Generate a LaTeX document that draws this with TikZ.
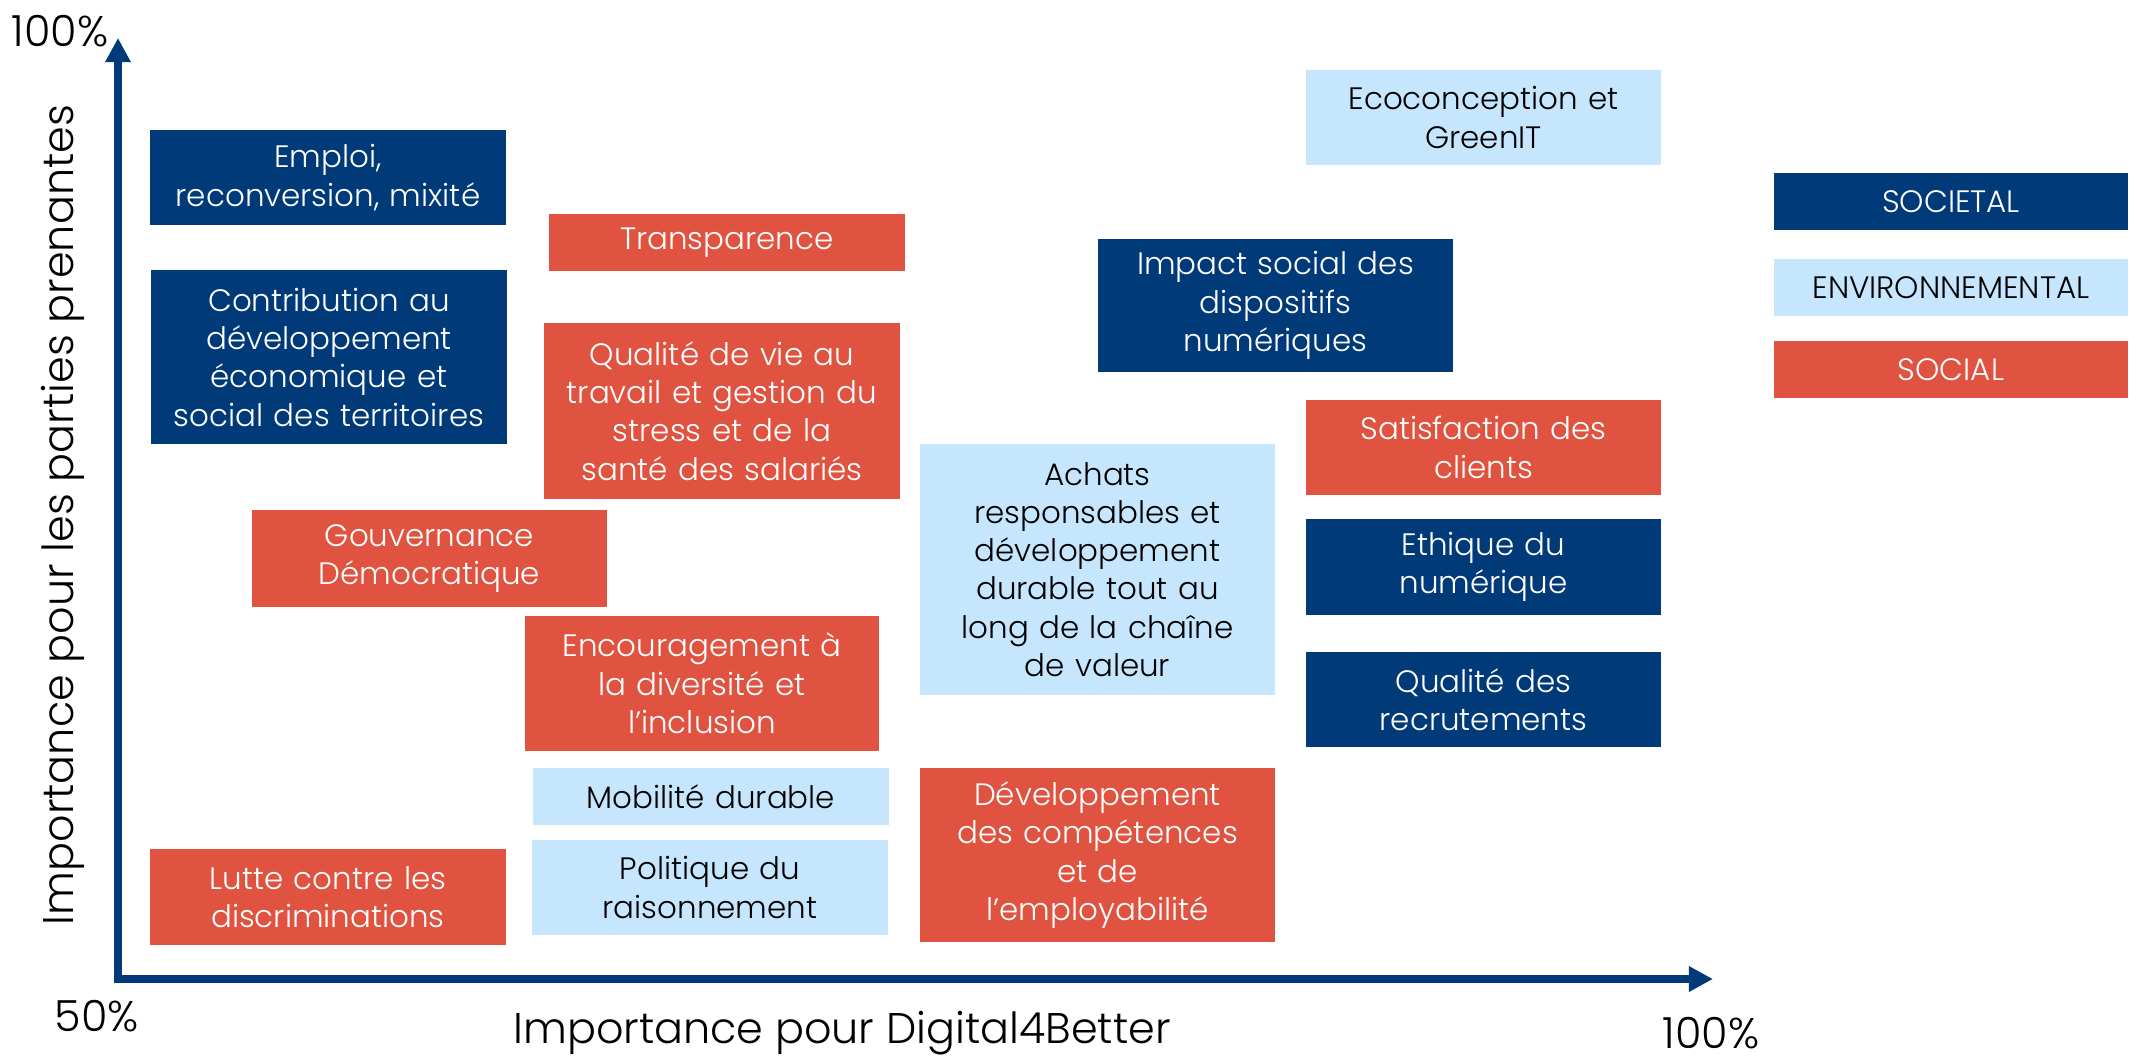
\documentclass[tikz,border=0pt]{standalone}
\usepackage{fontspec}
\setmainfont{Poppins}[UprightFont={* Light}]
\usetikzlibrary{arrows.meta}
\definecolor{navy}{RGB}{0,58,120}
\definecolor{redc}{RGB}{224,83,64}
\definecolor{lightb}{RGB}{197,230,253}
\newcommand\boxfont{\fontsize{8.8}{10.9}\selectfont}
\newcommand\labfont{\fontsize{12.2}{14}\selectfont}
\newcommand\kbox[7]{%
  \pgfmathsetmacro\kw{(#5-#3)*0.01}%
  \pgfmathsetmacro\kh{(#6-#4)*0.01}%
  \node[#2, minimum width=\kw cm, minimum height=\kh cm, text width=\kw cm] (#1) at ({(#3+#5)/2},{(#4+#6)/2}) {#7};}
\begin{document}
\begin{tikzpicture}[x=0.01cm,y=-0.01cm,
  box/.style={inner sep=0pt, outer sep=0pt, align=center, font=\boxfont},
  navybox/.style={box, fill=navy, text=white},
  redbox/.style={box, fill=redc, text=white},
  bluebox/.style={box, fill=lightb, text=black},
  axislab/.style={inner sep=0pt, font=\labfont, text=black},
  axisline/.style={draw=navy, line width=0.075cm, line join=miter}]
\useasboundingbox (0,0) rectangle (2138,1059);
% axes
\coordinate (origin) at (118,979);
\coordinate (ytip) at (118,38);
\coordinate (xtip) at (1713,979);
\draw[axisline, {Triangle[width=0.24cm,length=0.24cm]}-{Triangle[width=0.24cm,length=0.24cm]}] (ytip) -- (origin) -- (xtip);
% axis labels
\node[axislab] (ytop) at (60,31) {100\%};
\node[axislab] (x50) at (97,1016) {50\%};
\node[axislab] (x100) at (1711,1033) {100\%};
\node[axislab] (xlab) at (842,1033) {Importance pour Digital4Better};
\node[axislab, rotate=90] (ylab) at (63,515) {Importance pour les parties prenantes};
% boxes
\kbox{emploi}{navybox}{150}{130}{506}{225}{Emploi,\\reconversion, mixité}
\kbox{transp}{redbox}{549}{214}{905}{271}{Transparence}
\kbox{contrib}{navybox}{151}{270}{507}{444}{Contribution au\\développement\\économique et\\social des territoires}
\kbox{qvt}{redbox}{544}{323}{900}{499}{Qualité de vie au\\travail et gestion du\\stress et de la\\santé des salariés}
\kbox{gouv}{redbox}{252}{510}{607}{607}{Gouvernance\\Démocratique}
\kbox{encour}{redbox}{525}{616}{879}{751}{Encouragement à\\la diversité et\\l’inclusion}
\kbox{mobil}{bluebox}{533}{768}{889}{825}{Mobilité durable}
\kbox{polit}{bluebox}{532}{840}{888}{935}{Politique du\\raisonnement}
\kbox{lutte}{redbox}{150}{849}{506}{945}{Lutte contre les\\discriminations}
\kbox{achats}{bluebox}{920}{444}{1275}{695}{Achats\\responsables et\\développement\\durable tout au\\long de la chaîne\\de valeur}
\kbox{devcomp}{redbox}{920}{768}{1275}{942}{Développement\\des compétences\\et de\\l’employabilité}
\kbox{ecoc}{bluebox}{1306}{70}{1661}{165}{Ecoconception et\\GreenIT}
\kbox{impact}{navybox}{1098}{239}{1453}{372}{Impact social des\\dispositifs\\numériques}
\kbox{satisf}{redbox}{1306}{400}{1661}{495}{Satisfaction des\\clients}
\kbox{ethique}{navybox}{1306}{519}{1661}{615}{Ethique du\\numérique}
\kbox{recrut}{navybox}{1306}{652}{1661}{747}{Qualité des\\recrutements}
% legend
\kbox{societal}{navybox}{1774}{173}{2128}{230}{SOCIETAL}
\kbox{environ}{bluebox}{1774}{259}{2128}{316}{ENVIRONNEMENTAL}
\kbox{social}{redbox}{1774}{341}{2128}{398}{SOCIAL}
\end{tikzpicture}
\end{document}
